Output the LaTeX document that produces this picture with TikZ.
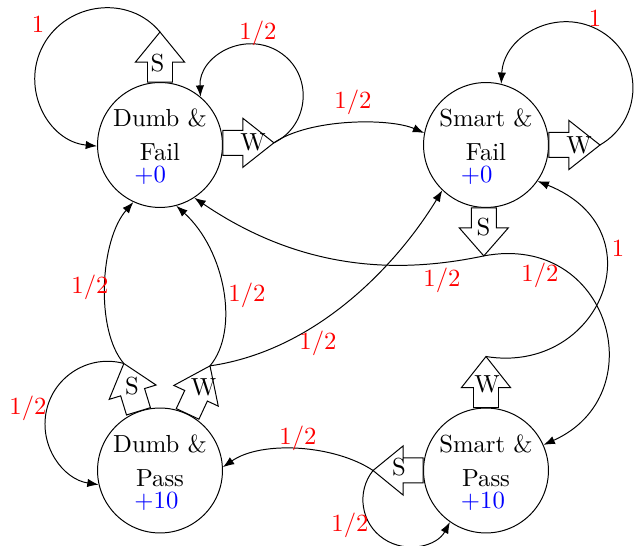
\documentclass[tikz,border=0pt]{standalone}
\usetikzlibrary{arrows.meta,calc}
\newcommand{\blockarrow}[4]{%
  \begin{scope}[shift={#2},rotate=#3]
    \draw[fill=white] (0,-12.5) -- (20,-12.5) -- (20,-24.5) -- (#4,0) -- (20,24.5) -- (20,12.5) -- (0,12.5) -- cycle;
    \coordinate (#1) at (#4,0);
  \end{scope}}
\begin{document}
\begin{tikzpicture}[x=0.405pt,y=-0.405pt,
  state/.style={draw,circle,minimum size=50.6pt,inner sep=0pt},
  linetext/.style={anchor=base,inner sep=0pt},
  reward/.style={anchor=base west,inner sep=0pt,text=blue},
  act/.style={inner sep=0pt},
  prob/.style={inner sep=0pt,text=red},
  trans/.style={-{Latex[length=4.6pt,width=3.4pt]}}]
\useasboundingbox (0,0) rectangle (636,546);

% states
\node[state] (df) at (160,145) {};
\node[state] (sf) at (486,145) {};
\node[state] (dp) at (160,470.5) {};
\node[state] (sp) at (486,470.5) {};

\node[linetext] (dfa) at (160,127) {Dumb \&};
\node[linetext] (dfb) at (160,161) {Fail};
\node[reward] (dfr) at (134,183) {+0};
\node[linetext] (sfa) at (486,127) {Smart \&};
\node[linetext] (sfb) at (486,161) {Fail};
\node[reward] (sfr) at (460.5,183) {+0};
\node[linetext] (dpa) at (160,453) {Dumb \&};
\node[linetext] (dpb) at (160,487) {Pass};
\node[reward] (dpr) at (134,509) {+10};
\node[linetext] (spa) at (486,453) {Smart \&};
\node[linetext] (spb) at (486,487) {Pass};
\node[reward] (spr) at (460.5,509) {+10};

% action arrows
\blockarrow{dfS}{(df.north)}{90}{50}
\blockarrow{dfW}{(df.2)}{0}{51}
\blockarrow{sfW}{(sf.east)}{0}{51}
\blockarrow{sfS}{(sf.268)}{270}{48}
\blockarrow{spW}{(sp.north)}{90}{51}
\blockarrow{spS}{(sp.west)}{180}{50}
\blockarrow{dpS}{(dp.110)}{107}{50}
\blockarrow{dpW}{(dp.64)}{65}{53}

\node[act] (ldfS) at (157.5,63) {S};
\node[act] (ldfW) at (253,142.5) {W};
\node[act] (lsfW) at (579,145) {W};
\node[act] (lsfS) at (483.5,227.5) {S};
\node[act] (lspW) at (487,384) {W};
\node[act] (lspS) at (399,467.5) {S};
\node[act] (ldpS) at (132,386) {S};
\node[act] (ldpW) at (203.5,387.5) {W};

% transitions
\draw[trans] (dfS) .. controls (128.8,-6) and (66.5,2.1) .. (43.2,45.3) .. controls (19.9,88.5) and (48,141.5) .. (df.181);
\draw[trans] (dfW) .. controls (310.3,125.3) and (313.7,73.3) .. (278.9,51.7) .. controls (244.1,30.1) and (198.6,56.2) .. (df.50);
\draw[trans] (dfW) .. controls (310,118) and (390,118) .. (sf.169);
\draw[trans] (sfW) .. controls (643.3,119.9) and (644.1,57.8) .. (601.5,31.7) .. controls (558.9,5.6) and (503.8,34.5) .. (sf.76);
\draw[trans] (sfS) .. controls (403,273) and (305,273) .. (df.303);
\draw[trans] (sfS) .. controls (610,232) and (655,395) .. (sp.24);
\draw[trans] (spW) .. controls (600,375) and (660,230) .. (sf.325);
\draw[trans] (spS) .. controls (335,445) and (262,440) .. (dp.3);
\draw[trans] (spS) .. controls (356.1,491.9) and (360.8,523.6) .. (383.8,538.9) .. controls (406.8,554.2) and (437.2,546) .. (sp.235);
\draw[trans] (dpS) .. controls (90.1,354.1) and (54,375.3) .. (46.4,410.8) .. controls (38.8,446.3) and (63.2,479.3) .. (dp.193);
\draw[trans] (dpS) .. controls (95,330) and (100,240) .. (df.245);
\draw[trans] (dpW) .. controls (240,330) and (225,250) .. (df.285);
\draw[trans] (dpW) .. controls (320,350) and (400,260) .. (sf.226);

% probabilities
\node[prob] (p1) at (38,24) {1};
\node[prob] (p2) at (258,33) {1/2};
\node[prob] (p3) at (353,102) {1/2};
\node[prob] (p4) at (595,18) {1};
\node[prob] (p5) at (618,248) {1};
\node[prob] (p6) at (442,280) {1/2};
\node[prob] (p7) at (540,275) {1/2};
\node[prob] (p8) at (90,287) {1/2};
\node[prob] (p9) at (247,295) {1/2};
\node[prob] (p10) at (318,343) {1/2};
\node[prob] (p11) at (28,408) {1/2};
\node[prob] (p12) at (298,438) {1/2};
\node[prob] (p13) at (350,525) {1/2};
\end{tikzpicture}
\end{document}
